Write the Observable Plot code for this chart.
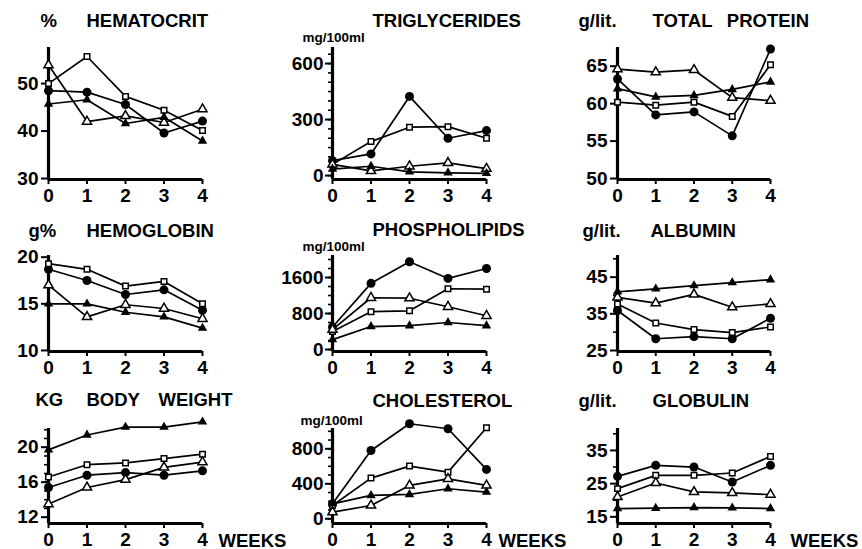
<!DOCTYPE html>
<html><head><meta charset="utf-8">
<script src="https://cdn.jsdelivr.net/npm/d3@7"></script>
<script src="https://cdn.jsdelivr.net/npm/@observablehq/plot@0.6"></script>
<style>
body{margin:0;background:#fff;}
#chart{position:relative;width:862px;height:549px;background:#fff;}
#chart svg{position:absolute;left:0;top:0;overflow:visible;}
</style></head><body><div id="chart"></div>
<script>
// ---- data ----
const weeks = [0, 1, 2, 3, 4];
const seriesNames = ["filled circle", "open square", "open triangle", "filled triangle"];
const titles = ["HEMATOCRIT", "TRIGLYCERIDES", "TOTAL\u2002 PROTEIN", "HEMOGLOBIN", "PHOSPHOLIPIDS", "ALBUMIN", "BODY\u2003WEIGHT", "CHOLESTEROL", "GLOBULIN"];
const units = ["%", "mg/100ml", "g/lit.", "g%", "mg/100ml", "g/lit.", "KG", "mg/100ml", "g/lit."];
const xAxisTitle = "WEEKS";

// rows: filled circle, open square, open triangle, filled triangle
const hematocrit    = [[48.5, 48.2, 45.6, 39.6, 42.1], [50, 55.7, 47.3, 44.4, 40.1], [53.9, 42, 43.2, 41.8, 44.6], [45.7, 46.6, 41.6, 42.9, 37.9]];
const triglycerides = [[80, 116, 424, 200, 241], [60, 182, 259, 262, 200], [60, 25, 50, 68, 37], [35, 50, 20, 15, 12]];
const totalProtein  = [[63.3, 58.5, 58.9, 55.7, 67.3], [60.2, 59.8, 60.2, 58.3, 65.2], [64.6, 64.2, 64.5, 60.8, 60.4], [62, 60.9, 61.1, 61.9, 62.9]];
const hemoglobin    = [[18.7, 17.5, 16, 16.5, 14.3], [19.3, 18.7, 16.9, 17.4, 15], [17, 13.6, 14.9, 14.5, 13.4], [15, 15, 14.1, 13.6, 12.4]];
const phospholipids = [[500, 1470, 1950, 1580, 1800], [400, 840, 860, 1350, 1340], [440, 1150, 1140, 950, 750], [220, 510, 530, 600, 530]];
const albumin       = [[35.9, 28.2, 28.8, 28.2, 33.8], [37.7, 32.5, 30.7, 29.9, 31.4], [39.5, 37.9, 40.3, 36.8, 37.7], [41, 41.8, 42.7, 43.5, 44.3]];
const bodyWeight    = [[15.4, 16.8, 17.1, 16.8, 17.3], [16.6, 18.0, 18.2, 18.7, 19.2], [13.5, 15.4, 16.3, 17.7, 18.3], [19.7, 21.4, 22.3, 22.3, 22.9]];
const cholesterol   = [[171, 781, 1086, 1029, 564], [152, 465, 602, 533, 1040], [76, 152, 381, 457, 381], [171, 267, 278, 343, 305]];
const globulin      = [[27.2, 30.5, 30, 25.5, 30.5], [23.5, 27.5, 27.5, 28.2, 33.2], [21, 25.2, 22.5, 22.2, 21.7], [17.5, 17.6, 17.8, 17.7, 17.5]];

const majorTicks = [[30, 40, 50], [0, 300, 600], [50, 55, 60, 65], [10, 15, 20], [0, 800, 1600], [25, 35, 45], [12, 16, 20], [0, 400, 800], [15, 25, 35]];
const minorTicks = [[], d3.range(0, 701, 50), [], [], d3.range(0, 2001, 200), [30, 40, 50], d3.range(12, 23, 1), d3.range(0, 1001, 100), [20, 30, 40]];

// ---- layout ----
const W = 862, H = 549;
const cols = [[48, 202], [332, 486], [617, 770]];
const rows = [[47, 179], [255, 351], [428, 523]];
const domains = [[29.8, 57.6], [-21, 686], [49.87, 67.5], [9.89, 20.18], [-44, 2089], [24.73, 50.9], [11.28, 22.14], [-54, 1032], [13, 41.6]];
// [titleX, titleTop, unitX, unitTop, unitSize]
const textPos = [
  [86, 13, 40, 13, 18.5], [372, 13, 302, 32, 13.5], [652, 13, 578, 13, 18.5],
  [86, 223, 28, 223, 18.5], [372, 222, 302, 241, 13.5], [650, 223, 582, 223, 18.5],
  [86, 392, 35, 392, 18.5], [372, 393, 300, 415, 13.5], [652, 393, 578, 393, 18.5]
];
const weeksX = [218, 498, 790];
const weeksTop = 533;
const tickPad = [3, 2, 3];

const datasets = [hematocrit, triglycerides, totalProtein, hemoglobin, phospholipids, albumin, bodyWeight, cholesterol, globulin];
const font = "'Liberation Sans', Arial, sans-serif";

function drawPanel(data, i) {
  const col = i % 3, row = Math.floor(i / 3);
  const [xl, xr] = cols[col], [yt, yb] = rows[row];
  const dom = domains[i];
  const table = data.flatMap((vals, s) => vals.map((v, k) => ({series: seriesNames[s], week: weeks[k], value: v})));
  const sel = s => table.filter(d => d.series === seriesNames[s]);
  const [tx, ty, ux, uy, us] = textPos[i];
  const rel = (x, y) => ({dx: x - xl, dy: y - yt});
  const marks = [
    Plot.ruleX([0], {strokeWidth: 3.2}),
    Plot.ruleY([dom[0]], {strokeWidth: 3.2}),
    Plot.axisY(majorTicks[i], {label: null, tickSize: 7, tickPadding: tickPad[col], strokeWidth: 2, fontSize: 19, fontWeight: "bold", tickFormat: d => String(d)}),
    Plot.axisX(weeks, {label: null, tickSize: 5, tickPadding: 4, strokeWidth: 2, fontSize: 19, fontWeight: "bold", tickFormat: d => String(d)}),
    Plot.line(table, {x: "week", y: "value", z: "series", stroke: "black", strokeWidth: 1.7}),
    Plot.dot(sel(0), {x: "week", y: "value", symbol: "circle", r: 4.5, fill: "black"}),
    Plot.dot(sel(1), {x: "week", y: "value", symbol: "square", r: 3.1, fill: "white", stroke: "black", strokeWidth: 1.5}),
    Plot.dot(sel(2), {x: "week", y: "value", symbol: "triangle", r: 3.4, fill: "white", stroke: "black", strokeWidth: 1.5}),
    Plot.dot(sel(3), {x: "week", y: "value", symbol: "triangle", r: 3.5, fill: "black"}),
    Plot.text([titles[i]], {text: d => d, frameAnchor: "top-left", ...rel(tx, ty), textAnchor: "start", lineAnchor: "top", fontSize: 18.5, fontWeight: "bold"}),
    Plot.text([units[i]], {text: d => d, frameAnchor: "top-left", ...rel(ux, uy), textAnchor: "start", lineAnchor: "top", fontSize: us, fontWeight: "bold"})
  ];
  if (minorTicks[i].length) {
    marks.splice(2, 0, Plot.axisY(minorTicks[i].filter(v => v >= dom[0] && v <= dom[1]), {label: null, tickSize: 4, strokeWidth: 1.6, tickFormat: () => ""}));
  }
  if (row === 2) {
    marks.push(Plot.text([xAxisTitle], {text: d => d, frameAnchor: "top-left", ...rel(weeksX[col], weeksTop), textAnchor: "start", lineAnchor: "top", fontSize: 18.5, fontWeight: "bold"}));
  }
  return Plot.plot({
    width: W, height: H,
    marginLeft: xl, marginRight: W - xr, marginTop: yt, marginBottom: H - yb,
    x: {domain: [0, 4]},
    y: {domain: dom},
    style: {background: "transparent", fontFamily: font, color: "black", overflow: "visible"},
    marks
  });
}

const chart = document.getElementById("chart");
datasets.forEach((d, i) => chart.appendChild(drawPanel(d, i)));
</script>
</body></html>
